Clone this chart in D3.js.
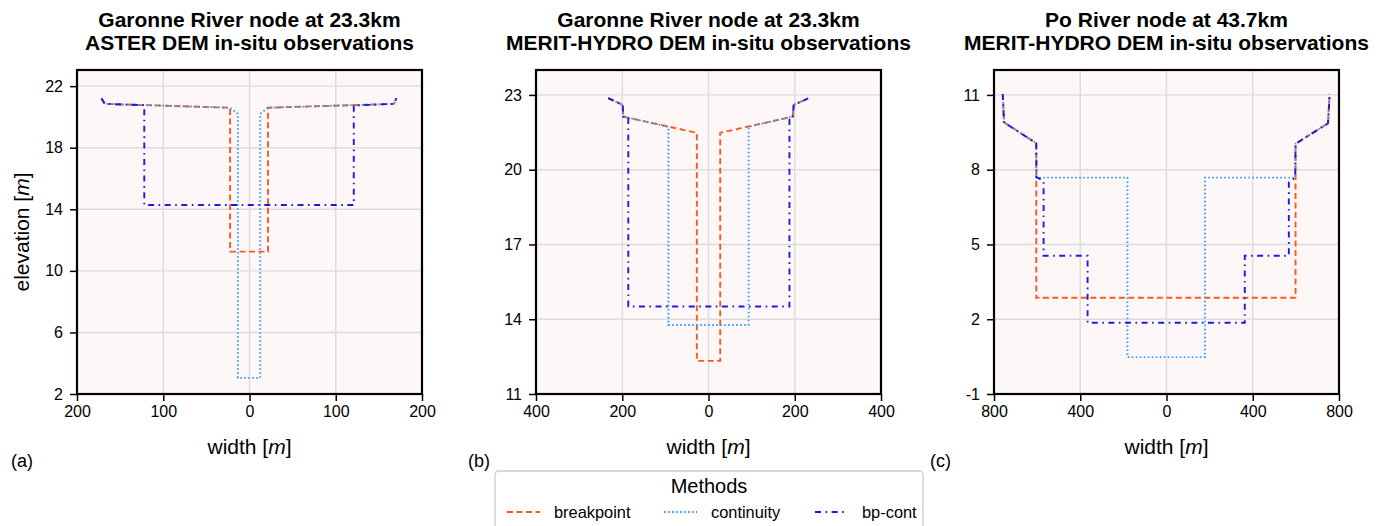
<!DOCTYPE html>
<html>
<head>
<meta charset="utf-8">
<script src="https://cdn.jsdelivr.net/npm/d3@7"></script>
<style>
  body { margin: 0; background: #ffffff; }
  svg text { font-family: "Liberation Sans", Arial, sans-serif; fill: #000; }
</style>
</head>
<body>
<svg id="fig" width="1386" height="526"></svg>
<script>
// ---- methods (legend order) ----
const methods = ["breakpoint", "continuity", "bp-cont"];
const methodColors = ["#ff5722", "#3399ff", "#1a1ae6"];
const methodDashes = ["6,3.5", "1.6,2.4", "6,4.5,1.6,4.5"];

// ---- panel titles and tick labels ----
const panelTitles = [
  ["Garonne River node at 23.3km", "ASTER DEM in-situ observations"],
  ["Garonne River node at 23.3km", "MERIT-HYDRO DEM in-situ observations"],
  ["Po River node at 43.7km", "MERIT-HYDRO DEM in-situ observations"]
];
const panelLetters = ["(a)", "(b)", "(c)"];
const xTicksA = [-200, -100, 0, 100, 200];
const xTicksB = [-400, -200, 0, 200, 400];
const xTicksC = [-800, -400, 0, 400, 800];
const yTicksA = [2, 6, 10, 14, 18, 22];
const yTicksB = [11, 14, 17, 20, 23];
const yTicksC = [-1, 2, 5, 8, 11];
const xLimA = [-200, 200], yLimA = [2, 23.05];
const xLimB = [-400, 400], yLimB = [11, 24];
const xLimC = [-800, 800], yLimC = [-1, 12];

// ---- cross-section profiles: [width (m), elevation (m)] ----
// Garonne, ASTER DEM
const garonneAsterBreakpoint = [
  [-171.6, 21.2], [-167.8, 20.85], [-22.5, 20.6], [-22.5, 11.25],
  [21.5, 11.25], [21.5, 20.6], [167.5, 20.85], [170.2, 21.2]
];
const garonneAsterContinuity = [
  [-171.6, 21.2], [-167.8, 20.85], [-22.5, 20.6], [-13.5, 20.2], [-13.5, 3.05],
  [12.4, 3.05], [12.4, 20.2], [21.5, 20.6], [167.5, 20.85], [170.2, 21.2]
];
const garonneAsterBpCont = [
  [-171.6, 21.2], [-167.8, 20.85], [-122, 20.76], [-122, 14.28],
  [120.9, 14.28], [120.9, 20.74], [167.5, 20.85], [170.2, 21.2]
];
// Garonne, MERIT-HYDRO DEM
const garonneMeritBreakpoint = [
  [-232.6, 22.87], [-199, 22.6], [-197.7, 22.13], [-27, 21.48], [-27, 12.33],
  [27.2, 12.33], [27.2, 21.48], [195.3, 22.13], [197.7, 22.6], [231, 22.86]
];
const garonneMeritContinuity = [
  [-232.6, 22.87], [-199, 22.6], [-197.7, 22.13], [-93, 21.72], [-93, 13.77],
  [93, 13.77], [93, 21.72], [195.3, 22.13], [197.7, 22.6], [231, 22.86]
];
const garonneMeritBpCont = [
  [-232.6, 22.87], [-199, 22.6], [-197.7, 22.13], [-186, 22.09], [-186, 14.51],
  [187.7, 14.51], [187.7, 22.09], [195.3, 22.13], [197.7, 22.6], [231, 22.86]
];
// Po, MERIT-HYDRO DEM
const poMeritBreakpoint = [
  [-759.5, 11.04], [-753.5, 9.9], [-604, 9.06], [-604, 2.86],
  [598.5, 2.86], [598.5, 9.04], [749, 9.86], [756.7, 11.04]
];
const poMeritContinuity = [
  [-759.5, 11.04], [-753.5, 9.9], [-604, 9.06], [-603, 7.68], [-181.4, 7.68],
  [-181.4, 0.48], [178.3, 0.48], [178.3, 7.68], [597, 7.68], [598.5, 9.04],
  [749, 9.86], [756.7, 11.04]
];
const poMeritBpCont = [
  [-759.5, 11.04], [-753.5, 9.9], [-604, 9.06], [-603, 7.7], [-570, 7.55],
  [-570, 4.55], [-366, 4.55], [-366, 1.86], [363, 1.86], [363, 4.55],
  [567.4, 4.55], [567.4, 7.5], [597, 7.68], [598.5, 9.04], [749, 9.86], [756.7, 11.04]
];

const panels = [
  { left: 77,  xLim: xLimA, yLim: yLimA, xTicks: xTicksA, yTicks: yTicksA,
    series: [garonneAsterBreakpoint, garonneAsterContinuity, garonneAsterBpCont], yLabel: true },
  { left: 536, xLim: xLimB, yLim: yLimB, xTicks: xTicksB, yTicks: yTicksB,
    series: [garonneMeritBreakpoint, garonneMeritContinuity, garonneMeritBpCont] },
  { left: 994, xLim: xLimC, yLim: yLimC, xTicks: xTicksC, yTicks: yTicksC,
    series: [poMeritBreakpoint, poMeritContinuity, poMeritBpCont] }
];

const svg = d3.select("#fig");
const plotTop = 70, W = 345, H = 324;

panels.forEach((p, i) => {
  const g = svg.append("g").attr("transform", `translate(${p.left},${plotTop})`);
  const x = d3.scaleLinear().domain(p.xLim).range([0, W]);
  const y = d3.scaleLinear().domain(p.yLim).range([H, 0]);

  g.append("rect").attr("width", W).attr("height", H).attr("fill", "#fdf8f7");

  // grid
  g.selectAll(".gx").data(p.xTicks).enter().append("line")
    .attr("x1", d => x(d)).attr("x2", d => x(d)).attr("y1", 0).attr("y2", H)
    .attr("stroke", "#dcdcdc").attr("stroke-width", 1.4);
  g.selectAll(".gy").data(p.yTicks).enter().append("line")
    .attr("y1", d => y(d)).attr("y2", d => y(d)).attr("x1", 0).attr("x2", W)
    .attr("stroke", "#dcdcdc").attr("stroke-width", 1.4);

  // profiles
  const line = d3.line().x(d => x(d[0])).y(d => y(d[1]));
  p.series.forEach((s, k) => {
    g.append("path").datum(s).attr("d", line)
      .attr("fill", "none")
      .attr("stroke", methodColors[k])
      .attr("stroke-width", 1.9)
      .attr("stroke-dasharray", methodDashes[k]);
  });

  // frame
  g.append("rect").attr("width", W).attr("height", H)
    .attr("fill", "none").attr("stroke", "#000").attr("stroke-width", 2.2);

  // axes
  const xAxis = d3.axisBottom(x).tickValues(p.xTicks)
    .tickFormat(d => String(Math.abs(d))).tickSize(7).tickPadding(5);
  const gx = g.append("g").attr("transform", `translate(0,${H})`).call(xAxis);
  const yAxis = d3.axisLeft(y).tickValues(p.yTicks)
    .tickFormat(d => String(d)).tickSize(7).tickPadding(7);
  const gy = g.append("g").call(yAxis);
  [gx, gy].forEach(a => {
    a.select(".domain").remove();
    a.selectAll(".tick line").attr("stroke", "#000").attr("stroke-width", 1.5);
    a.selectAll(".tick text").attr("font-size", 16)
      .style("font-family", '"Liberation Sans", Arial, sans-serif').attr("fill", "#000");
  });

  // titles
  const cx = W / 2;
  g.append("text").attr("x", cx).attr("y", 27 - plotTop).attr("text-anchor", "middle")
    .attr("font-size", 21).attr("font-weight", "bold").text(panelTitles[i][0]);
  g.append("text").attr("x", cx).attr("y", 50 - plotTop).attr("text-anchor", "middle")
    .attr("font-size", 21).attr("font-weight", "bold").text(panelTitles[i][1]);

  // x label
  const xl = g.append("text").attr("x", cx).attr("y", 454 - plotTop)
    .attr("text-anchor", "middle").attr("font-size", 21);
  xl.append("tspan").text("width [");
  xl.append("tspan").attr("font-style", "italic").text("m");
  xl.append("tspan").text("]");

  if (p.yLabel) {
    const yl = g.append("text")
      .attr("transform", `translate(${29 - p.left},${H / 2}) rotate(-90)`)
      .attr("text-anchor", "middle").attr("font-size", 21);
    yl.append("tspan").text("elevation [");
    yl.append("tspan").attr("font-style", "italic").text("m");
    yl.append("tspan").text("]");
  }
});

// panel letters
const letterX = [11, 468, 930];
panelLetters.forEach((t, i) => {
  svg.append("text").attr("x", letterX[i]).attr("y", 467).attr("font-size", 18).text(t);
});

// legend
const lg = svg.append("g");
lg.append("rect").attr("x", 495).attr("y", 471).attr("width", 428).attr("height", 80)
  .attr("rx", 4).attr("fill", "#ffffff").attr("stroke", "#cccccc").attr("stroke-width", 1.3);
lg.append("text").attr("x", 709).attr("y", 493).attr("text-anchor", "middle")
  .attr("font-size", 20).text("Methods");
const handleX = [507, 664, 815];
methods.forEach((m, k) => {
  lg.append("line").attr("x1", handleX[k]).attr("x2", handleX[k] + 33)
    .attr("y1", 512).attr("y2", 512)
    .attr("stroke", methodColors[k]).attr("stroke-width", 1.9)
    .attr("stroke-dasharray", methodDashes[k]);
  lg.append("text").attr("x", handleX[k] + 47).attr("y", 518)
    .attr("font-size", 16.4).text(m);
});
</script>
</body>
</html>
